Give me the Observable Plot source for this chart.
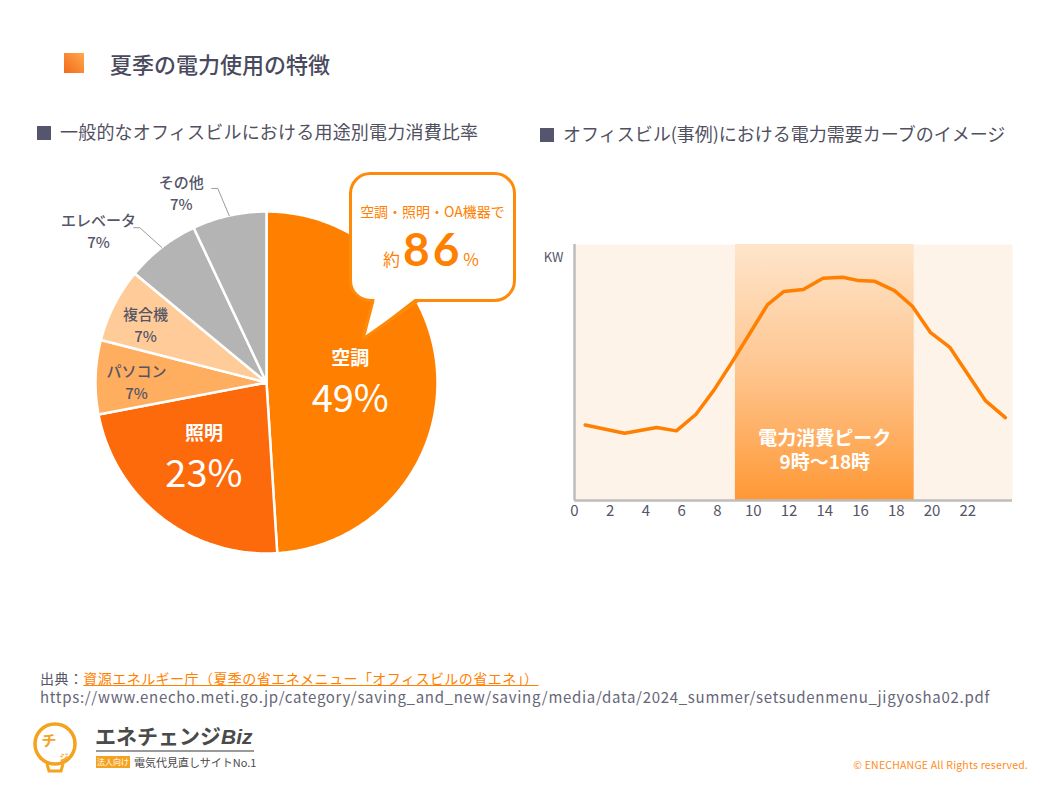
<!DOCTYPE html>
<html><head><meta charset="utf-8">
<script src="https://cdn.jsdelivr.net/npm/d3@7"></script>
<script src="https://cdn.jsdelivr.net/npm/@observablehq/plot@0.6"></script>
<style>
html,body{margin:0;padding:0;background:#fff;}
#page{position:relative;width:1058px;height:794px;overflow:hidden;font-family:"Noto Sans CJK JP","Noto Sans",sans-serif;color:#50505f;}
.abs{position:absolute;white-space:nowrap;}
.sq{display:inline-block;width:14px;height:14px;background:#55556e;margin-right:9px;vertical-align:-1px;}
</style></head><body>
<svg width="0" height="0" style="position:absolute">
  <defs>
    <linearGradient id="peakGrad" x1="0" y1="0" x2="0" y2="1">
      <stop offset="0" stop-color="#FEE5CB"/>
      <stop offset="0.5" stop-color="#FEC58E"/>
      <stop offset="1" stop-color="#FF9836"/>
    </linearGradient>
  </defs>
</svg>
<div id="page">
  <div class="abs" style="left:64px;top:53px;width:20px;height:20px;background:linear-gradient(to bottom left,#FFA84F,#F26A1B);"></div>
  <div class="abs" style="left:110px;top:48px;font-size:22px;line-height:30px;font-weight:500;color:#4a4a5e;">夏季の電力使用の特徴</div>

  <div class="abs" style="left:37px;top:118px;font-size:18px;line-height:26px;letter-spacing:0.2px;"><span class="sq"></span>一般的なオフィスビルにおける用途別電力消費比率</div>
  <div class="abs" style="left:540px;top:120px;font-size:18px;line-height:26px;"><span class="sq"></span>オフィスビル(事例)における電力需要カーブのイメージ</div>

  <div id="pie" class="abs" style="left:0;top:162px;"></div>
  <div id="curve" class="abs" style="left:520px;top:230px;"></div>

  <!-- callout -->
  <svg class="abs" style="left:0;top:0;pointer-events:none;" width="1058" height="794">
    <rect x="350.5" y="173.5" width="164" height="127" rx="20" ry="20" fill="#fff" stroke="#FF8A0A" stroke-width="3"/>
    <polygon points="375,298 363,339 416,298" fill="#fff"/>
    <polyline points="373,300.5 363,339 418,300.5" fill="none" stroke="#FF8A0A" stroke-width="3" stroke-linejoin="round"/>
    <text x="432.5" y="217" text-anchor="middle" font-size="14" fill="#FF7F00" font-family="Noto Sans CJK JP">空調・照明・OA機器で</text>
    <text x="431" y="266" text-anchor="middle" fill="#FF7F00" font-family="Noto Sans CJK JP"><tspan font-size="17">約</tspan><tspan dx="3" font-size="46" font-weight="700" font-family="Lato" letter-spacing="3">86</tspan><tspan dx="1" font-size="17">%</tspan></text>
  </svg>

  <!-- footer -->
  <div class="abs" style="left:40px;top:668px;font-size:14px;line-height:20px;color:#555566;letter-spacing:0.45px;">出典：<span style="color:#FF7F00;text-decoration:underline;">資源エネルギー庁（夏季の省エネメニュー「オフィスビルの省エネ」）</span></div>
  <div id="url" class="abs" style="left:40px;top:687px;font-size:15px;line-height:20px;color:#666677;">https://www.enecho.meti.go.jp/category/saving_and_new/saving/media/data/2024_summer/setsudenmenu_jigyosha02.pdf</div>

  <!-- logo -->
  <svg class="abs" style="left:28px;top:716px;" width="60" height="62">
    <circle cx="27" cy="28" r="20" fill="none" stroke="#F5A21F" stroke-width="3.5"/>
    <path d="M19,48 L21,55 L33,55 L35,48" fill="none" stroke="#F5A21F" stroke-width="3"/>
    <text x="21" y="30" text-anchor="middle" font-size="15" font-weight="700" fill="#F5A21F" font-family="Noto Sans CJK JP">チ</text>
    <text x="36" y="45" text-anchor="middle" font-size="9" font-weight="700" fill="#F5A21F" font-family="Noto Sans CJK JP">ジ</text>
  </svg>
  <div class="abs" style="left:95px;top:722px;font-size:21px;line-height:26px;font-weight:700;color:#4a4a4a;">エネチェンジ<i style="font-family:'Liberation Sans';font-weight:700;">Biz</i></div>
  <div class="abs" style="left:96px;top:750px;width:158px;height:1.5px;background:#9a9a9a;"></div>
  <div class="abs" style="left:96px;top:756px;width:34px;height:12px;background:#F5A21F;color:#fff;font-size:8px;line-height:12px;text-align:center;">法人向け</div>
  <div class="abs" style="left:134px;top:754px;font-size:11px;line-height:16px;color:#4a4a4a;">電気代見直しサイトNo.1</div>
  <div class="abs" style="right:30px;top:758px;font-size:10.5px;line-height:14px;color:#FF8C1A;letter-spacing:0.2px;">© ENECHANGE All Rights reserved.</div>
</div>
<script>
// ---- pie data ----
const categories = ["空調", "照明", "パソコン", "複合機", "エレベータ", "その他"];
const shares = [49, 23, 7, 7, 7, 7];
const sliceColors = ["#FF8000", "#FC6A0C", "#FFAD5F", "#FFCC99", "#B4B4B4", "#B4B4B4"];

// ---- demand curve data ----
const hours = [0.6, 2.8, 4.6, 5.7, 6.8, 7.8, 8.8, 10.8, 11.7, 12.8, 13.9, 15.0, 15.9, 16.8, 17.9, 18.9, 19.9, 21.0, 23.0, 24.1];
const demand = [29.5, 26.3, 28.5, 27.2, 33.7, 43.1, 53.9, 76.5, 81.6, 82.4, 86.8, 87.2, 85.9, 85.6, 82.0, 75.9, 65.7, 59.8, 38.9, 32.4];
const hourTicks = [0, 2, 4, 6, 8, 10, 12, 14, 16, 18, 20, 22];
const peakStart = 9, peakEnd = 19;
const peakText = "電力消費ピーク\n9時～18時";
const yUnit = "KW";

// ---- label placement (layout) ----
const labelLayout = {
  "空調":     {r: 0.49, da: 0,   big: true},
  "照明":     {r: 0.56, da: 3,   big: true},
  "パソコン": {r: 0.76, da: -2},
  "複合機":   {r: 0.78, da: -2},
  "エレベータ": {r: 1.32, da: -10.3, leader: true},
  "その他":   {r: 1.21, da: -11.7, leader: true}
};

const FONT = "Noto Sans CJK JP";
const rows = categories.map((c, i) => ({cat: c, share: shares[i], color: sliceColors[i]}));
const arcs = d3.pie().sort(null).value(d => d.share)(rows);
const rad = Math.PI / 180;

function slicePts(a) {
  const pts = [{x: 0, y: 0}];
  const n = Math.max(4, Math.ceil((a.endAngle - a.startAngle) / 0.01));
  for (let i = 0; i <= n; i++) {
    const t = a.startAngle + (a.endAngle - a.startAngle) * i / n;
    pts.push({x: Math.sin(t), y: Math.cos(t)});
  }
  return pts;
}

const labels = arcs.map(a => {
  const L = labelLayout[a.data.cat];
  const mid = (a.startAngle + a.endAngle) / 2 + L.da * rad;
  return {cat: a.data.cat, pct: a.data.share + "%", x: L.r * Math.sin(mid), y: L.r * Math.cos(mid), big: !!L.big};
});
const leaders = arcs.filter(a => labelLayout[a.data.cat].leader).map(a => {
  const mid = (a.startAngle + a.endAngle) / 2;
  const e = mid - 1.5 * rad;
  const ex = 1.17 * Math.sin(e), ey = 1.17 * Math.cos(e);
  return [{x: Math.sin(mid), y: Math.cos(mid)}, {x: ex, y: ey}, {x: ex - 0.035, y: ey}];
});

const bigL = labels.filter(d => d.big), smallL = labels.filter(d => !d.big);

const piePlot = Plot.plot({
  width: 520, height: 440,
  marginLeft: 0, marginRight: 0, marginTop: 0, marginBottom: 0,
  x: {domain: [-1, 1], range: [95, 437], axis: null},
  y: {domain: [-1, 1], range: [391, 49], axis: null},
  style: {fontFamily: FONT, background: "transparent", overflow: "visible"},
  marks: [
    ...arcs.map(a => Plot.line(slicePts(a), {x: "x", y: "y", fill: a.data.color, stroke: "#fff", strokeWidth: 2.5, curve: "linear-closed", strokeLinejoin: "round"})),
    ...leaders.map(pts => Plot.line(pts, {x: "x", y: "y", stroke: "#9c9c9c", strokeWidth: 1})),
    Plot.text(bigL, {x: "x", y: "y", text: "cat", dy: -21, fill: "#fff", fontSize: 19, fontWeight: 700, fontFamily: FONT}),
    Plot.text(bigL, {x: "x", y: "y", text: "pct", dy: 20, fill: "#fff", fontSize: 38, fontWeight: 400, fontFamily: FONT}),
    Plot.text(smallL, {x: "x", y: "y", text: "cat", dy: -11, fill: "#555568", fontSize: 15, fontWeight: 500, fontFamily: FONT}),
    Plot.text(smallL, {x: "x", y: "y", text: "pct", dy: 11, fill: "#555568", fontSize: 15, fontWeight: 500, fontFamily: FONT})
  ]
});
document.getElementById("pie").appendChild(piePlot);

const curve = hours.map((h, i) => ({h, v: demand[i]}));
const peak = [{start: peakStart, end: peakEnd, label: peakText}];

const curvePlot = Plot.plot({
  width: 510, height: 300,
  marginLeft: 54, marginRight: 18, marginTop: 14, marginBottom: 30,
  x: {domain: [0, 24.5], ticks: hourTicks, tickSize: 0, tickPadding: 5, label: null},
  y: {domain: [0, 100], axis: null},
  style: {fontFamily: FONT, fontSize: "15px", color: "#555566", background: "transparent", overflow: "visible"},
  marks: [
    Plot.frame({fill: "#FEF3E8", stroke: "none"}),
    Plot.rect(peak, {x1: "start", x2: "end", fill: "url(#peakGrad)"}),
    Plot.ruleX([0], {stroke: "#BDBDBD", strokeWidth: 2.5}),
    Plot.ruleY([0], {stroke: "#BDBDBD", strokeWidth: 2.5}),
    Plot.line(curve, {x: "h", y: "v", stroke: "#FF7F00", strokeWidth: 3.5, strokeLinejoin: "round"}),
    Plot.text(peak, {x: d => (d.start + d.end) / 2, y: 20, text: "label", fill: "#fff", fontSize: 19, fontWeight: 700, lineHeight: 1.28, fontFamily: FONT}),
    Plot.text([yUnit], {frameAnchor: "top-left", text: d => d, textAnchor: "middle", lineAnchor: "middle", dx: -21, dy: 13, fill: "#555566", fontSize: 13, fontFamily: FONT})
  ]
});
document.getElementById("curve").appendChild(curvePlot);

// fit URL line width to the reference
const url = document.getElementById("url");
const w = url.getBoundingClientRect().width;
url.style.letterSpacing = ((950 - w) / url.textContent.length) + "px";
</script>
</body></html>
